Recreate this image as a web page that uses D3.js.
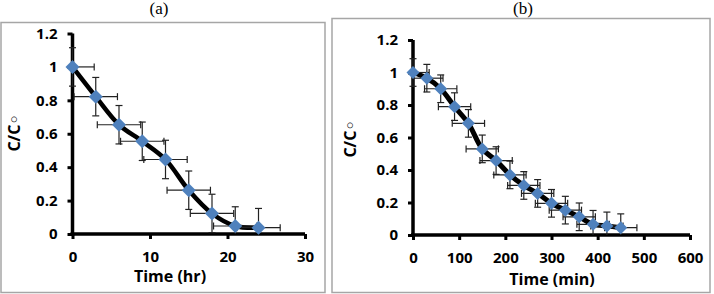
<!DOCTYPE html>
<html>
<head>
<meta charset="utf-8">
<script src="https://cdn.jsdelivr.net/npm/d3@7"></script>
<style>
  body { margin: 0; background: #fff; }
  svg { display: block; }
</style>
</head>
<body>
<div id="container"></div>
<script>
// panel (a): time in hours
let timeA = [0, 3, 6, 9, 12, 15, 18, 21, 24];
let ratioA = [1, 0.822, 0.654, 0.555, 0.446, 0.262, 0.123, 0.048, 0.038];
let errTimeA = 2.8;
let errRatioA = 0.115;

// panel (b): time in minutes
let timeB = [0, 30, 60, 90, 120, 150, 180, 210, 240, 270, 300, 330, 360, 390, 420, 450];
let ratioB = [1, 0.965, 0.9, 0.79, 0.687, 0.53, 0.458, 0.37, 0.305, 0.256, 0.195, 0.153, 0.112, 0.066, 0.056, 0.045];
let errTimeB = 35;
let errRatioB = 0.085;

let ticksXA = [0, 10, 20, 30];
let ticksXB = [0, 100, 200, 300, 400, 500, 600];
let ticksY = [0, 0.2, 0.4, 0.6, 0.8, 1, 1.2];

let w = 714;
let h = 294;
let FONT = "'Open Sans', 'DejaVu Sans', sans-serif";

let viz = d3.select('#container')
  .append('svg')
  .attr('width', w)
  .attr('height', h);

function drawPanel(p) {
  let g = viz.append('g');

  // frame + title
  g.append('rect')
    .attr('x', p.frame[0]).attr('y', p.frame[1])
    .attr('width', p.frame[2] - p.frame[0]).attr('height', p.frame[3] - p.frame[1])
    .attr('fill', 'none').attr('stroke', '#a6a6a6').attr('stroke-width', 1.5);
  g.append('text')
    .attr('x', p.titleX).attr('y', p.titleY)
    .attr('text-anchor', 'middle')
    .style('font-family', "'Liberation Serif', 'Times New Roman', serif")
    .style('font-size', '17px')
    .text(p.title);

  let xScale = d3.scaleLinear().domain([0, p.xMax]).range([p.left, p.right]);
  let yScale = d3.scaleLinear().domain([0, 1.2]).range([p.bottom, p.top]);

  // axes
  let xAxis = d3.axisBottom(xScale).tickValues(p.ticksX).tickSize(5).tickPadding(12).tickFormat(d3.format('d'));
  let yAxis = d3.axisLeft(yScale).tickValues(ticksY).tickSize(5).tickPadding(10).tickFormat(d => d3.format('')(d));

  let xAxisGroup = g.append('g').attr('transform', `translate(0,${p.bottom})`).call(xAxis);
  let yAxisGroup = g.append('g').attr('transform', `translate(${p.left},0)`).call(yAxis);
  [xAxisGroup, yAxisGroup].forEach(ax => {
    ax.select('.domain').attr('stroke', '#000').attr('stroke-width', 3.5);
    ax.selectAll('.tick line').attr('stroke', '#000').attr('stroke-width', 3);
    ax.selectAll('text')
      .style('font-family', FONT).style('font-size', '15px').style('font-weight', 700)
      .attr('fill', '#000');
  });
  xAxisGroup.select('.domain').attr('d', `M${p.left - 2},0H${p.right}`);
  yAxisGroup.select('.domain').attr('d', `M0,${p.top}V${p.bottom + 2}`);

  // axis titles
  g.append('text')
    .attr('x', p.xTitleX).attr('y', p.xTitleY)
    .attr('text-anchor', 'middle')
    .style('font-family', FONT).style('font-size', '16px').style('font-weight', 700)
    .text(p.xTitle);
  g.append('text')
    .attr('transform', `translate(${p.yTitleX},${p.yTitleY}) rotate(-90)`)
    .attr('text-anchor', 'middle')
    .style('font-family', FONT).style('font-size', '16px').style('font-weight', 700)
    .text('C/C\u25E6');

  let data = p.xs.map((x, i) => ({x: x, y: p.ys[i]}));

  // smooth line
  let line = d3.line()
    .x(d => xScale(d.x))
    .y(d => yScale(d.y))
    .curve(d3.curveCatmullRom.alpha(0.5));
  g.append('path')
    .datum(data)
    .attr('d', line)
    .attr('fill', 'none')
    .attr('stroke', '#000')
    .attr('stroke-width', p.lineW)
    .attr('stroke-linejoin', 'round');

  // error bars, cut at the axes
  let cap = 3.5;
  let bars = g.append('g').attr('stroke', '#222').attr('stroke-width', 1.2).attr('fill', 'none');
  data.forEach(d => {
    let cx = xScale(d.x), cy = yScale(d.y);
    let x0 = d.x - p.errX, x1 = d.x + p.errX;
    let y0 = d.y - p.errY, y1 = d.y + p.errY;
    // horizontal
    bars.append('line')
      .attr('x1', xScale(Math.max(0, x0))).attr('x2', xScale(x1))
      .attr('y1', cy).attr('y2', cy);
    if (x0 >= 0) bars.append('line').attr('x1', xScale(x0)).attr('x2', xScale(x0)).attr('y1', cy - cap).attr('y2', cy + cap);
    bars.append('line').attr('x1', xScale(x1)).attr('x2', xScale(x1)).attr('y1', cy - cap).attr('y2', cy + cap);
    // vertical
    bars.append('line')
      .attr('x1', cx).attr('x2', cx)
      .attr('y1', yScale(Math.max(0, y0))).attr('y2', yScale(y1));
    if (y0 >= 0) bars.append('line').attr('x1', cx - cap).attr('x2', cx + cap).attr('y1', yScale(y0)).attr('y2', yScale(y0));
    bars.append('line').attr('x1', cx - cap).attr('x2', cx + cap).attr('y1', yScale(y1)).attr('y2', yScale(y1));
  });

  // diamond markers
  g.selectAll('.marker')
    .data(data)
    .enter()
    .append('path')
    .classed('marker', true)
    .attr('transform', d => `translate(${xScale(d.x)},${yScale(d.y)})`)
    .attr('d', `M0,${-p.mk}L${p.mk},0L0,${p.mk}L${-p.mk},0Z`)
    .attr('fill', '#4f81bd');
}

drawPanel({
  frame: [1, 22.5, 325, 292.5],
  title: '(a)', titleX: 159, titleY: 14,
  left: 72.5, right: 305, top: 33.5, bottom: 234,
  xMax: 30, ticksX: ticksXA,
  xs: timeA, ys: ratioA, errX: errTimeA, errY: errRatioA,
  xTitle: 'Time (hr)', xTitleX: 170, xTitleY: 282,
  yTitleX: 20, yTitleY: 133,
  lineW: 4.5, mk: 7
});

drawPanel({
  frame: [332, 18.5, 710, 292.5],
  title: '(b)', titleX: 523, titleY: 14,
  left: 413, right: 690, top: 40, bottom: 235,
  xMax: 600, ticksX: ticksXB,
  xs: timeB, ys: ratioB, errX: errTimeB, errY: errRatioB,
  xTitle: 'Time (min)', xTitleX: 552, xTitleY: 285,
  yTitleX: 356, yTitleY: 139,
  lineW: 5, mk: 6.5
});
</script>
</body>
</html>
